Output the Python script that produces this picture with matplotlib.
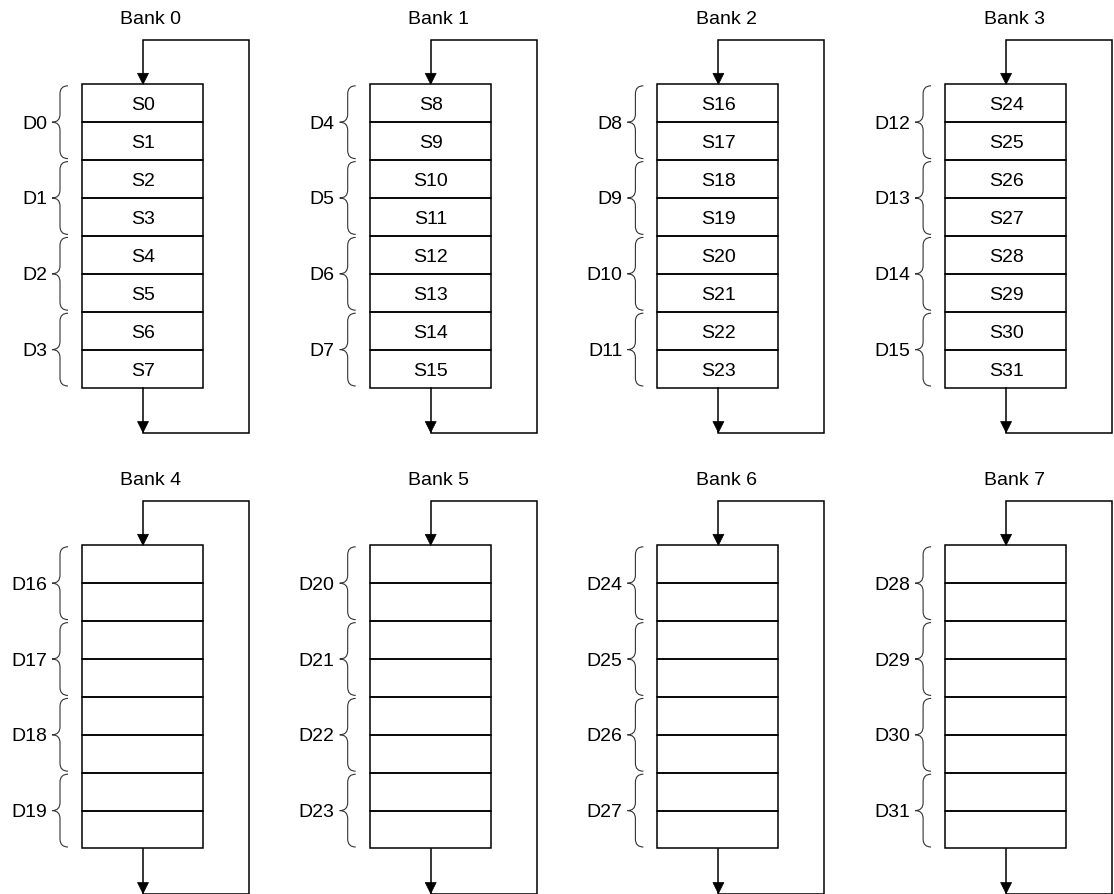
import matplotlib
matplotlib.use("Agg")
import matplotlib.pyplot as plt
from matplotlib.path import Path
from matplotlib.patches import PathPatch, Polygon, Rectangle

plt.rcParams['font.family'] = ['Liberation Sans', 'DejaVu Sans']

# ---- data ----
bank_titles = ["Bank 0", "Bank 1", "Bank 2", "Bank 3",
               "Bank 4", "Bank 5", "Bank 6", "Bank 7"]
slot_labels = [
    ["S0", "S1", "S2", "S3", "S4", "S5", "S6", "S7"],
    ["S8", "S9", "S10", "S11", "S12", "S13", "S14", "S15"],
    ["S16", "S17", "S18", "S19", "S20", "S21", "S22", "S23"],
    ["S24", "S25", "S26", "S27", "S28", "S29", "S30", "S31"],
    ["", "", "", "", "", "", "", ""],
    ["", "", "", "", "", "", "", ""],
    ["", "", "", "", "", "", "", ""],
    ["", "", "", "", "", "", "", ""],
]
double_labels = [
    ["D0", "D1", "D2", "D3"],
    ["D4", "D5", "D6", "D7"],
    ["D8", "D9", "D10", "D11"],
    ["D12", "D13", "D14", "D15"],
    ["D16", "D17", "D18", "D19"],
    ["D20", "D21", "D22", "D23"],
    ["D24", "D25", "D26", "D27"],
    ["D28", "D29", "D30", "D31"],
]

# ---- layout (pixel units) ----
W, H = 1114, 894
fig = plt.figure(figsize=(W / 100, H / 100), dpi=100)
ax = fig.add_axes([0, 0, 1, 1])
ax.set_xlim(0, W)
ax.set_ylim(H, 0)
ax.axis("off")

x0, dx = 82.0, 287.7
box_w = 121.0
row_top0, drow = 84.3, 461.0
row_h = 37.9
lw = 1.1
fs = 14


def brace(ax, xv, ytop, ybot, reach=8, tip=8, r=8):
    """Left-facing curly brace, vertical spine at xv."""
    ymid = (ytop + ybot) / 2
    xe = xv + reach
    xt = xv - tip
    verts = [
        (xe, ytop),
        (xv, ytop), (xv, ytop + r),
        (xv, ymid - r),
        (xv, ymid), (xt, ymid),
        (xv, ymid), (xv, ymid + r),
        (xv, ybot - r),
        (xv, ybot), (xe, ybot),
    ]
    codes = [Path.MOVETO,
             Path.CURVE3, Path.CURVE3,
             Path.LINETO,
             Path.CURVE3, Path.CURVE3,
             Path.CURVE3, Path.CURVE3,
             Path.LINETO,
             Path.CURVE3, Path.CURVE3]
    ax.add_patch(PathPatch(Path(verts, codes), fill=False, lw=0.8,
                           edgecolor="#333333"))


def arrowhead(ax, x, ytip, w=11, h=11):
    ax.add_patch(Polygon([(x - w / 2, ytip - h), (x + w / 2, ytip - h), (x, ytip)],
                         closed=True, facecolor="black", edgecolor="black", lw=0.5))


for b, title in enumerate(bank_titles):
    col, rowi = b % 4, b // 4
    left = x0 + dx * col
    right = left + box_w
    cx = left + box_w / 2 + 0.5
    top = row_top0 + drow * rowi
    n = len(slot_labels[b])
    bottom = top + n * row_h
    loop_top = top - 44.5
    loop_bot = bottom + 45
    loop_x = right + 46

    # title
    ax.text(cx + 8, loop_top - 15.5, title, ha="center", va="baseline",
            fontsize=fs)

    # slots
    for k, lab in enumerate(slot_labels[b]):
        y = top + k * row_h
        ax.add_patch(Rectangle((left, y), box_w, row_h, fill=False,
                               edgecolor="black", lw=lw))
        if lab:
            ax.text(cx, y + row_h / 2 + 7.0, lab, ha="center", va="baseline",
                    fontsize=fs)

    # loop
    ax.plot([cx, cx, loop_x, loop_x, cx, cx],
            [bottom, loop_bot, loop_bot, loop_top, loop_top, top - 2],
            color="black", lw=lw, solid_joinstyle="miter")
    arrowhead(ax, cx, top)
    arrowhead(ax, cx, loop_bot)

    # braces and double labels
    for j, dl in enumerate(double_labels[b]):
        yt = top + 2 * j * row_h + 1.5
        yb = top + 2 * (j + 1) * row_h - 1.5
        brace(ax, left - 22, yt, yb)
        ax.text(left - 35, (yt + yb) / 2 + 6.5, dl, ha="right", va="baseline",
                fontsize=fs)

fig.savefig("out.png", dpi=100)
